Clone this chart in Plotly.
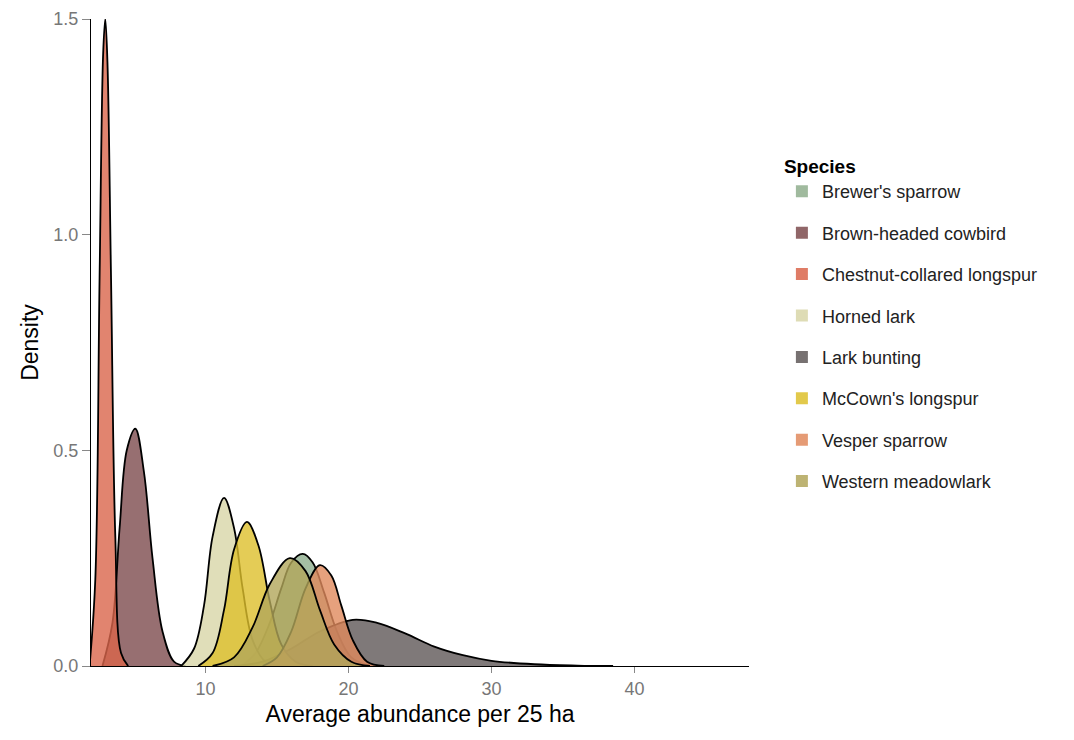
import plotly.graph_objects as go

species = ["Brewer's sparrow", "Brown-headed cowbird", "Chestnut-collared longspur", "Horned lark",
           "Lark bunting", "McCown's longspur", "Vesper sparrow", "Western meadowlark"]
colors = ["#8FAE8D", "#7D4B4E", "#D9654B", "#D8D6A8", "#5F5858", "#DDBF2C", "#E0895D", "#B1A65A"]

# density curves (x, y)
brewer_x = [12.5, 13.5, 14.5, 15.3, 16.0, 16.8, 17.5, 18.3, 19.2, 20.2, 21.5]
brewer_y = [0.0, 0.03, 0.10, 0.18, 0.24, 0.26, 0.24, 0.17, 0.08, 0.02, 0.0]
cowbird_x = [2.8, 3.5, 4.0, 4.5, 5.1, 5.7, 6.3, 7.0, 7.8, 8.6]
cowbird_y = [0.0, 0.1, 0.32, 0.5, 0.55, 0.45, 0.25, 0.08, 0.01, 0.0]
chestnut_x = [1.9, 2.3, 2.6, 2.85, 3.0, 3.15, 3.4, 3.7, 4.1, 4.6]
chestnut_y = [0.0, 0.2, 0.9, 1.42, 1.5, 1.4, 0.9, 0.3, 0.03, 0.0]
horned_x = [8.3, 9.2, 9.9, 10.5, 11.3, 12.0, 12.6, 13.3, 14.2, 15.2]
horned_y = [0.0, 0.04, 0.14, 0.3, 0.39, 0.32, 0.18, 0.06, 0.01, 0.0]
bunting_x = [12.0, 14.0, 16.0, 18.0, 20.3, 22.0, 24.0, 26.0, 28.0, 30.0, 33.0, 36.0, 38.5]
bunting_y = [0.0, 0.01, 0.04, 0.08, 0.107, 0.1, 0.075, 0.045, 0.025, 0.012, 0.004, 0.001, 0.0]
mccown_x = [9.5, 10.5, 11.3, 12.0, 12.9, 13.7, 14.5, 15.3, 16.3, 17.5]
mccown_y = [0.0, 0.03, 0.13, 0.27, 0.334, 0.28, 0.15, 0.05, 0.01, 0.0]
vesper_x = [14.0, 15.0, 16.0, 17.0, 18.0, 18.8, 19.5, 20.3, 21.3, 22.5]
vesper_y = [0.0, 0.02, 0.08, 0.18, 0.234, 0.21, 0.14, 0.06, 0.01, 0.0]
meadow_x = [10.5, 12.0, 13.3, 14.5, 15.9, 17.0, 18.0, 19.0, 20.2, 21.5]
meadow_y = [0.0, 0.02, 0.09, 0.19, 0.25, 0.22, 0.13, 0.05, 0.01, 0.0]

xs = [brewer_x, cowbird_x, chestnut_x, horned_x, bunting_x, mccown_x, vesper_x, meadow_x]
ys = [brewer_y, cowbird_y, chestnut_y, horned_y, bunting_y, mccown_y, vesper_y, meadow_y]

def rgba(h, a=0.8):
    h = h.lstrip("#")
    return "rgba(%d,%d,%d,%s)" % (int(h[0:2], 16), int(h[2:4], 16), int(h[4:6], 16), a)

fig = go.Figure()
for name, c, x, y in zip(species, colors, xs, ys):
    fig.add_trace(go.Scatter(x=x, y=y, name=name, mode="lines", fill="tozeroy", showlegend=False,
                             fillcolor=rgba(c), line=dict(color="black", width=1.8, shape="spline", smoothing=1.0)))
for i, (name, c) in enumerate(zip(species, colors)):
    fig.add_trace(go.Bar(x=[None], y=[None], name=name, marker=dict(color=rgba(c, 0.85), line=dict(width=0)),
                         legendgroup="g%d" % i, showlegend=True))

fig.update_layout(
    width=1074, height=740, plot_bgcolor="white", paper_bgcolor="white",
    margin=dict(l=83, r=333, t=11, b=82, autoexpand=False),
    font=dict(family="Liberation Sans, Arial", size=18, color="#222"),
    xaxis=dict(range=[2.0, 48.0], tickvals=[10, 20, 30, 40], showgrid=False, zeroline=False,
               showline=True, linecolor="black", linewidth=1.2, ticks="outside", tickcolor="#888",
               ticklen=6, tickfont=dict(color="#777", size=18), automargin=False,
               title=dict(text="Average abundance per 25 ha", font=dict(size=23, color="black"), standoff=8)),
    yaxis=dict(range=[0, 1.5], tickvals=[0, 0.5, 1.0, 1.5], ticktext=["0.0", "0.5", "1.0", "1.5"],
               showgrid=False, zeroline=False, showline=True, linecolor="black", linewidth=1.2, automargin=False,
               ticks="outside", tickcolor="#888", ticklen=8, tickfont=dict(color="#777", size=18),
               title=dict(text="Density", font=dict(size=23, color="black"), standoff=8)),
    legend=dict(x=1.05, y=0.8, xanchor="left", yanchor="top", traceorder="grouped",
                title=dict(text="<b>Species</b>", font=dict(size=19, color="black")),
                font=dict(size=18, color="#222"), itemsizing="constant", tracegroupgap=15),
)
fig.write_html("out.html")
